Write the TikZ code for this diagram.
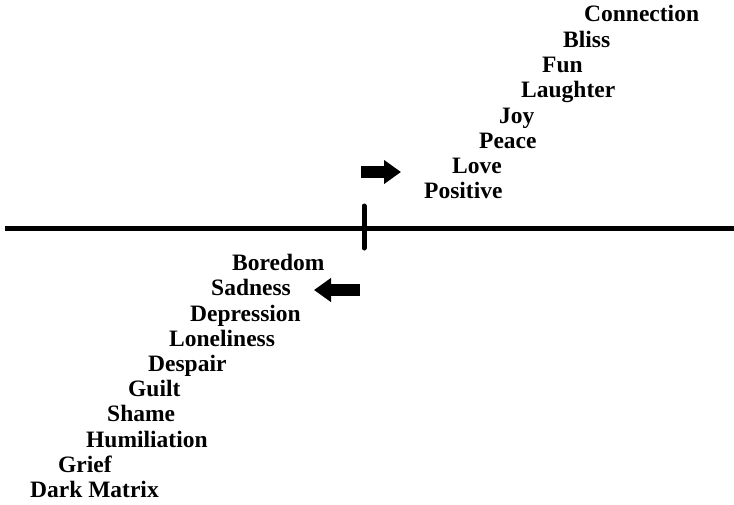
\documentclass[tikz,border=0pt]{standalone}
\usepackage{fontspec}
\setmainfont{Liberation Serif}
\usetikzlibrary{arrows.meta}
\tikzset{>=Triangle}

\begin{document}
\begin{tikzpicture}[x=1pt, y=-1pt, text height=1.5ex, text depth=.25ex]
    \tikzset{%
      mood/.style={anchor=west, inner sep=0pt, yshift=-3pt, font=\fontsize{23.5}{27}\selectfont\bfseries},
      axis/.style={line width=5pt},
      moodarrow/.style={line width=12pt, -{Triangle[length=17pt, width=23pt]}}
      }
     \useasboundingbox (0,0) rectangle (734,504);

     % upper side
     \node [mood] (Conn) at (584, 16) {Connection};
     \node [mood] (Bliss) at (563, 42) {Bliss};
     \node [mood] (Fun) at (542, 67) {Fun};
     \node [mood] (Laugh) at (521, 92) {Laughter};
     \node [mood] (Joy) at (499, 118) {Joy};
     \node [mood] (Peace) at (479, 143) {Peace};
     \node [mood] (Love) at (452, 168) {Love};
     \node [mood] (Pos) at (424, 193) {Positive};

     % lower side
     \node [mood] (Bore) at (232, 265) {Boredom};
     \node [mood] (Sad) at (211, 290) {Sadness};
     \node [mood] (Depr) at (190, 316) {Depression};
     \node [mood] (Lone) at (169, 341) {Loneliness};
     \node [mood] (Desp) at (148, 366) {Despair};
     \node [mood] (Guilt) at (128, 391) {Guilt};
     \node [mood] (Shame) at (107, 416) {Shame};
     \node [mood] (Humil) at (86, 442) {Humiliation};
     \node [mood] (Grief) at (58, 467) {Grief};
     \node [mood] (Dark) at (30, 492) {Dark Matrix};

     % axis and tick
     \coordinate (Lend) at (5, 228);
     \coordinate (Rend) at (734, 228);
     \coordinate (Ttop) at (364, 206);
     \coordinate (Tbot) at (364, 248);
     \draw [axis] (Lend) -- (Rend);
     \draw [axis, line cap=round] (Ttop) -- (Tbot);

     % direction arrows
     \coordinate (Ra) at (361, 172);
     \coordinate (Rb) at (401, 172);
     \coordinate (La) at (360, 290);
     \coordinate (Lb) at (314, 290);
     \draw [moodarrow] (Ra) -- (Rb);
     \draw [moodarrow] (La) -- (Lb);

  \end{tikzpicture}
\end{document}
